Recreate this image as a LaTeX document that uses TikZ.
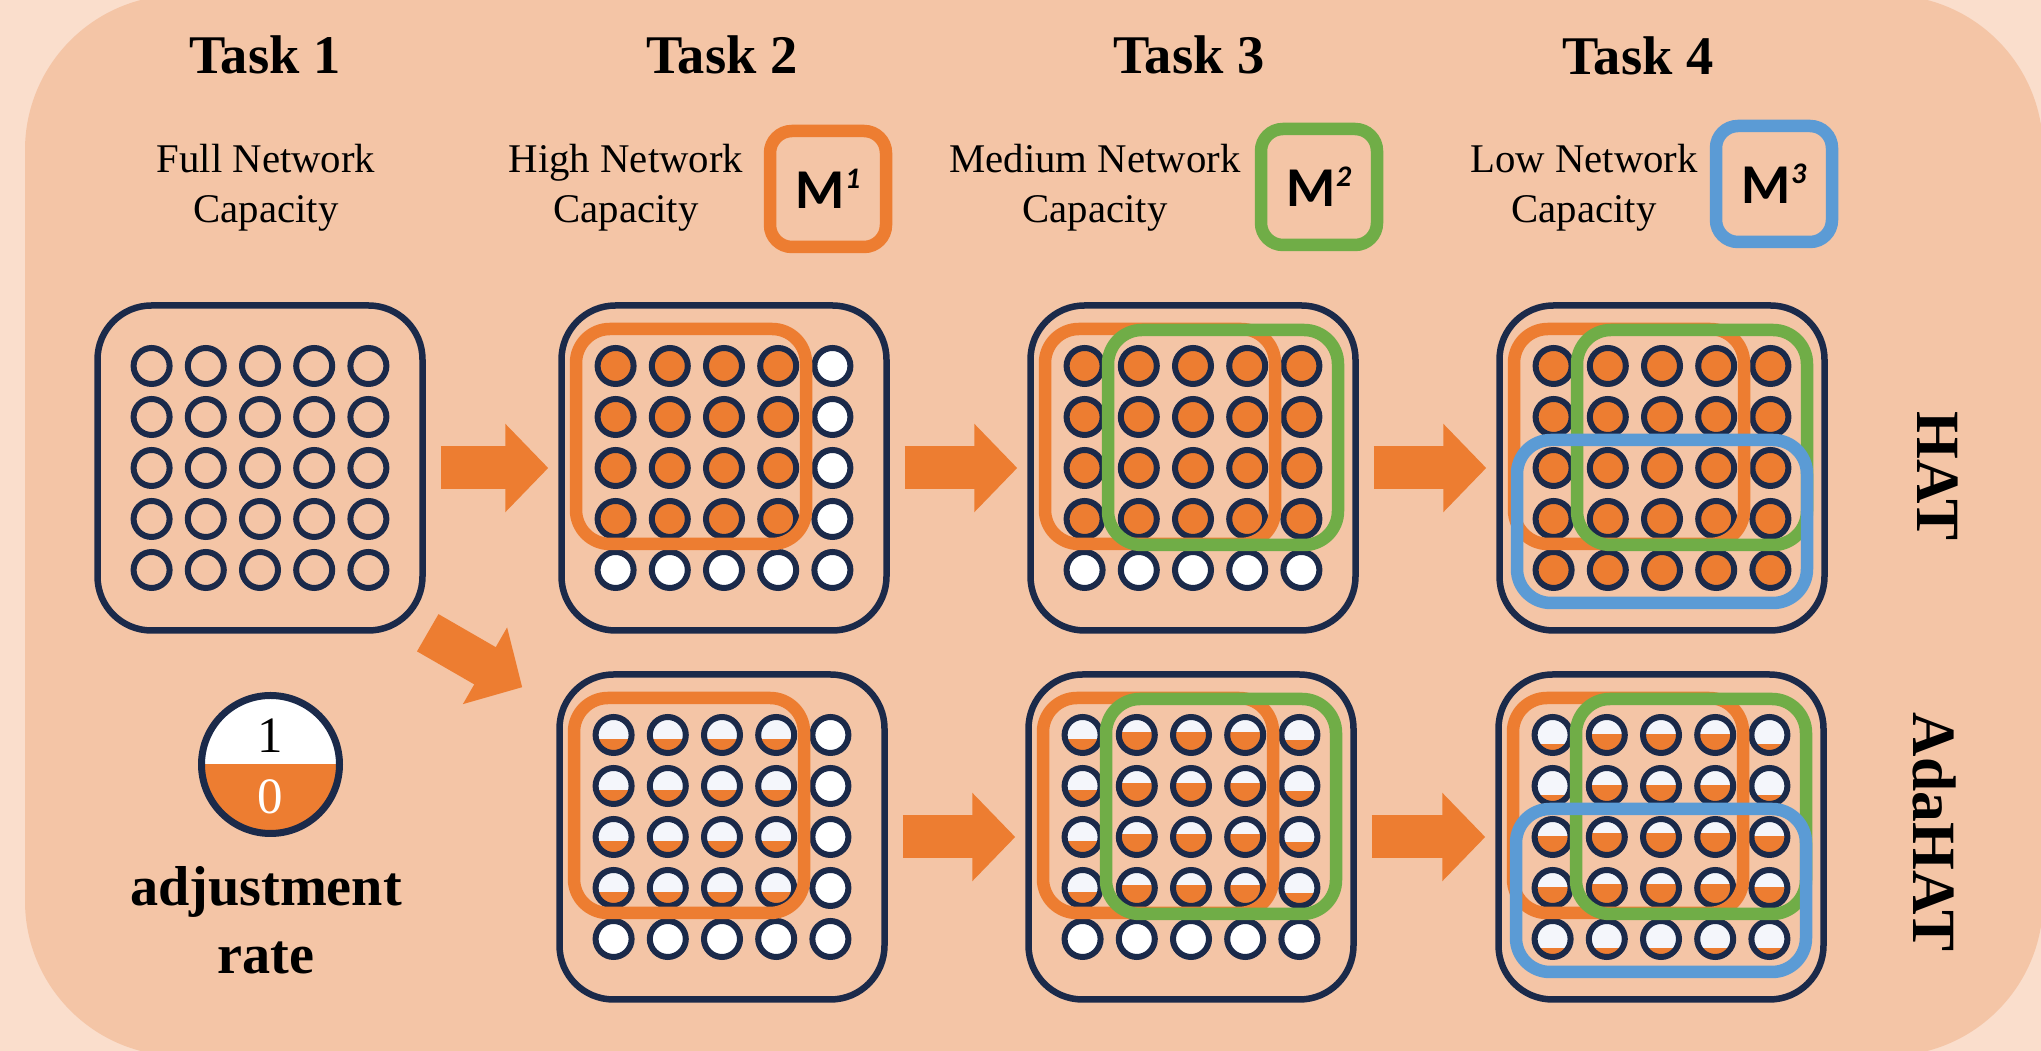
\documentclass[tikz,border=0pt]{standalone}
\usepackage{fontspec}
\setmainfont{Liberation Serif}
\newfontfamily\mfont{Carlito}
\usetikzlibrary{arrows.meta,calc}
\definecolor{navy}{HTML}{1B2A4A}
\definecolor{hot}{HTML}{ED7D31}
\definecolor{leaf}{HTML}{70AD47}
\definecolor{sky}{HTML}{5B9BD5}
\definecolor{sheet}{HTML}{F4C5A6}
\definecolor{paper}{HTML}{FADECC}
\definecolor{celltop}{HTML}{F4F6FB}
\newcommand{\supnum}[1]{\raisebox{5.6pt}{\fontsize{8.5}{9}\selectfont\itshape #1}}
% one 5x5 layer of units; level <0 hollow, 0 white, >0 orange share
\newcommand{\cells}[2]{%
  \begin{scope}[shift={(#1.center)}]
    \foreach \lvls [count=\r] in {#2} {
      \foreach \lv [count=\c] in \lvls {
        \pgfmathsetmacro\px{(\c-3)*54.2}
        \pgfmathsetmacro\py{(\r-3)*51}
        \ifdim\lv pt>0pt
          \fill[celltop] (\px,\py) circle[radius=18];
          \begin{scope}
            \clip (\px,\py) circle[radius=18];
            \fill[hot] (\px-18,\py+15-30*\lv) rectangle (\px+18,\py+18);
          \end{scope}
        \else\ifdim\lv pt=0pt
          \fill[white] (\px,\py) circle[radius=18];
        \fi\fi
        \draw[neuron] (\px,\py) circle[radius=18];
      }
    }
  \end{scope}}
\newcommand{\maskhi}[1]{\draw[mask,hot] ($(#1.center)+(-148,-139)$) rectangle ($(#1.center)+(82,76)$);}
\newcommand{\maskmid}[1]{\draw[mask,leaf] ($(#1.center)+(-85,-138)$) rectangle ($(#1.center)+(145,77)$);}
\newcommand{\masklo}[1]{\draw[mask,sky] ($(#1.center)+(-145,-28)$) rectangle ($(#1.center)+(145,135)$);}
\tikzset{
  netbox/.style ={rectangle, draw=navy, line width=0.65mm, rounded corners=5.4mm,
                  minimum size=32.5mm, inner sep=0pt},
  neuron/.style ={draw=navy, line width=0.6mm},
  mask/.style   ={line width=1.25mm, rounded corners=3.4mm},
  flow/.style   ={draw=hot, line width=4.3mm, -{Triangle[length=4.3mm,width=8.6mm]},
                  shorten <=1.5mm, shorten >=1mm},
  mkey/.style   ={rectangle, line width=1.25mm, rounded corners=2.2mm, minimum size=11.6mm,
                  inner sep=0pt, font=\mfont\fontsize{16}{19}\selectfont\bfseries},
  title/.style  ={font=\fontsize{15.5}{18}\selectfont\bfseries, inner sep=0pt, anchor=base},
  desc/.style   ={font=\fontsize{11.6}{14.2}\selectfont, align=center, inner sep=0pt, anchor=north},
  rowlbl/.style ={font=\fontsize{17.5}{20}\selectfont\bfseries, rotate=-90, inner sep=0pt},
}
\begin{document}
\begin{tikzpicture}[x=0.1mm,y=-0.1mm]
\useasboundingbox (0,0) rectangle (2041,1051);
\fill[paper] (0,0) rectangle (2041,1051);
\fill[sheet, rounded corners=15.5mm] (25,-5) rectangle (2043,1056);

% ---- headings ---------------------------------------------------------
\node[title] (task1) at (265,74)  {Task 1};
\node[title] (task2) at (722,74)  {Task 2};
\node[title] (task3) at (1189,74) {Task 3};
\node[title] (task4) at (1638,75) {Task 4};

\node[desc] (cap1) at (266,144)  {Full Network\\Capacity};
\node[desc] (cap2) at (626,144)  {High Network\\Capacity};
\node[desc] (cap3) at (1095,144) {Medium Network\\Capacity};
\node[desc] (cap4) at (1584,144) {Low Network\\Capacity};

\node[mkey, draw=hot]  (m1) at (828,189)  {M\supnum{1}};
\node[mkey, draw=leaf] (m2) at (1319,187) {M\supnum{2}};
\node[mkey, draw=sky]  (m3) at (1774,184) {M\supnum{3}};

% ---- networks -----------------------------------------------------------
\node[netbox] (t1) at (260,468)  {};
\node[netbox] (h2) at (724,468)  {};
\node[netbox] (h3) at (1193,468) {};
\node[netbox] (h4) at (1662,468) {};
\node[netbox] (a2) at (722,837)  {};
\node[netbox] (a3) at (1191,837) {};
\node[netbox] (a4) at (1661,837) {};

\cells{t1}{{-1,-1,-1,-1,-1},{-1,-1,-1,-1,-1},{-1,-1,-1,-1,-1},{-1,-1,-1,-1,-1},{-1,-1,-1,-1,-1}}
\cells{h2}{{1,1,1,1,0},{1,1,1,1,0},{1,1,1,1,0},{1,1,1,1,0},{0,0,0,0,0}}
\cells{h3}{{1,1,1,1,1},{1,1,1,1,1},{1,1,1,1,1},{1,1,1,1,1},{0,0,0,0,0}}
\cells{h4}{{1,1,1,1,1},{1,1,1,1,1},{1,1,1,1,1},{1,1,1,1,1},{1,1,1,1,1}}
\cells{a2}{{.35,.35,.35,.35,0},{.35,.35,.35,.35,0},{.35,.35,.35,.35,0},{.35,.35,.35,.35,0},{0,0,0,0,0}}
\cells{a3}{{.35,.6,.6,.6,.33},{.35,.6,.6,.6,.33},{.35,.6,.6,.6,.33},{.35,.6,.6,.6,.33},{0,0,0,0,0}}
\cells{a4}{{.2,.53,.53,.53,.2},{.2,.53,.53,.53,.2},{.53,.63,.63,.63,.53},{.53,.63,.63,.63,.53},{.19,.19,.19,.19,.19}}

\maskhi{h2} \maskhi{h3} \maskhi{h4}
\maskhi{a2} \maskhi{a3} \maskhi{a4}
\maskmid{h3} \maskmid{h4} \maskmid{a3} \maskmid{a4}
\masklo{h4} \masklo{a4}

\draw[flow] (t1) -- (h2);
\draw[flow] (h2) -- (h3);
\draw[flow] (h3) -- (h4);
\draw[flow] (a2) -- (a3);
\draw[flow] (a3) -- (a4);
\draw[flow, shorten <=0pt, shorten >=0pt]
  ([shift={(2,-1)}]t1.south east) -- ([shift={(-34,16)}]a2.north west);

\node[rowlbl] (hat) at (1938,476) {HAT};
\node[rowlbl] (ada) at (1935,832) {AdaHAT};

% ---- legend -------------------------------------------------------------
\node[circle, draw=navy, line width=0.7mm, minimum size=13.8mm, inner sep=0pt, fill=white,
  path picture={\fill[hot] (path picture bounding box.west)
    rectangle (path picture bounding box.south east);}] (rate) at (270.5,764.5) {};
\node[font=\fontsize{14.5}{16}\selectfont, inner sep=0pt] (one) at (270.5,735.4) {1};
\node[font=\fontsize{14.5}{16}\selectfont, inner sep=0pt, text=white] (zero) at (270.5,797) {0};
\node[font=\fontsize{16}{19.3}\selectfont\bfseries, align=center, inner sep=0pt, anchor=north]
  (ratelbl) at (266,866) {adjustment\\rate};
\end{tikzpicture}
\end{document}
